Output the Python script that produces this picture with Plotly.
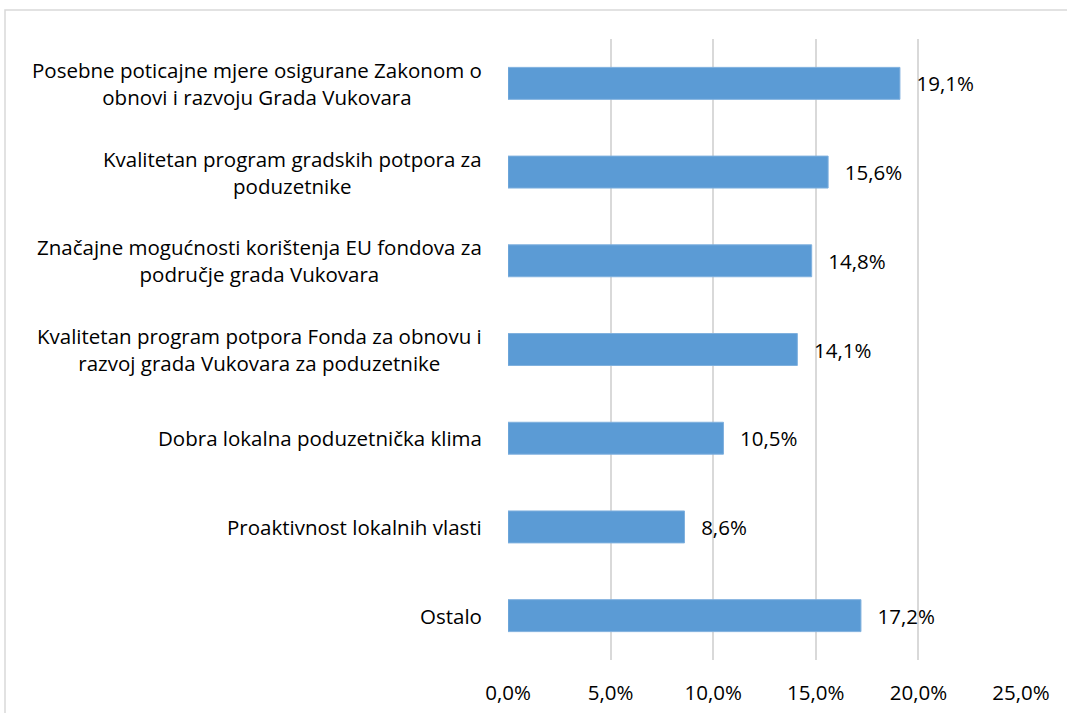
import plotly.graph_objects as go

categories = [
    "Posebne poticajne mjere osigurane Zakonom o<br>obnovi i razvoju Grada Vukovara",
    "Kvalitetan program gradskih potpora za<br>poduzetnike",
    "Značajne mogućnosti korištenja EU fondova za<br>područje grada Vukovara",
    "Kvalitetan program potpora Fonda za obnovu i<br>razvoj grada Vukovara za poduzetnike",
    "Dobra lokalna poduzetnička klima",
    "Proaktivnost lokalnih vlasti",
    "Ostalo",
]
values = [19.1, 15.6, 14.8, 14.1, 10.5, 8.6, 17.2]
x_ticks = [0, 5, 10, 15, 20, 25]
x_tick_labels = ["0,0%", "5,0%", "10,0%", "15,0%", "20,0%", "25,0%"]

FONT = "Open Sans"
FS = 20.5
fig = go.Figure()
fig.add_trace(go.Bar(
    y=list(range(len(categories))),
    x=values,
    orientation="h",
    marker=dict(color="#5b9bd5", line=dict(color="#7fb0de", width=1)),
    text=values,
    texttemplate="\u2002\u2009%{x:.1f}%",
    textposition="outside",
    textfont=dict(family=FONT, size=FS, color="#000000"),
    cliponaxis=False,
    width=0.36,
    hoverinfo="skip",
))

for i, c in enumerate(categories):
    fig.add_annotation(
        x=0, xref="paper", xanchor="right", xshift=-24,
        y=i, yref="y", yanchor="middle",
        text=c, showarrow=False, align="center",
        font=dict(family=FONT, size=FS, color="#000000"),
    )

fig.add_shape(type="rect", xref="paper", yref="paper",
              x0=-0.9805, x1=1.0916, y0=-0.0966, y1=1.0467,
              line=dict(color="#d9d9d9", width=1.5), fillcolor="rgba(0,0,0,0)", layer="below")

fig.update_layout(
    width=1067, height=713,
    margin=dict(l=508, r=46, t=39, b=53, autoexpand=False),
    paper_bgcolor="white", plot_bgcolor="white",
    separators=",.",
    showlegend=False,
    xaxis=dict(
        range=[0, 25], tickvals=x_ticks, ticktext=x_tick_labels,
        showgrid=True, gridcolor="#d9d9d9", gridwidth=1.5,
        zeroline=False, showline=False, automargin=False,
        ticks="outside", ticklen=14, tickcolor="rgba(0,0,0,0)",
        tickfont=dict(family=FONT, size=FS, color="#000000"),
        fixedrange=True,
    ),
    yaxis=dict(
        range=[6.5, -0.5], showticklabels=False, showgrid=False,
        zeroline=False, showline=False, fixedrange=True, automargin=False,
    ),
)

fig.write_html("out.html", config={"displayModeBar": False},
               post_script="document.body.style.margin='0';document.body.style.overflow='hidden';")
